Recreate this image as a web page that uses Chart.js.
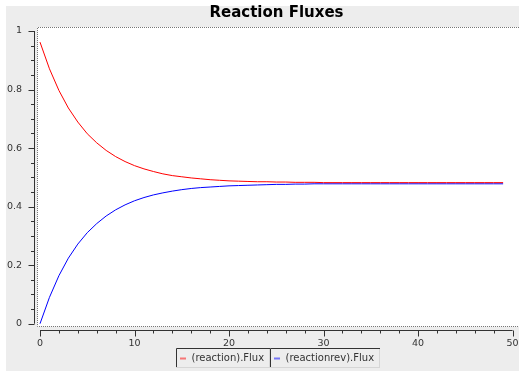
<!DOCTYPE html>
<html>
<head>
<meta charset="utf-8">
<title>Reaction Fluxes</title>
<script src="https://cdn.jsdelivr.net/npm/chart.js@4"></script>
<style>
  html, body { margin: 0; padding: 0; background: #fff; }
  #wrap { position: relative; width: 519px; height: 371px; }
</style>
</head>
<body>
<div id="wrap"><canvas id="chart"></canvas></div>
<script>
const time = [0, 1, 2, 3, 4, 5, 6, 7, 8, 9, 10, 11, 12, 13, 14, 15, 16, 17, 18, 19,
  20, 21, 22, 23, 24, 25, 26, 27, 28, 29, 30, 31, 32, 33, 34, 35, 36, 37, 38, 39,
  40, 41, 42, 43, 44, 45, 46, 47, 48, 49];
const reactionFlux = [0.962, 0.871, 0.797, 0.737, 0.689, 0.649, 0.618, 0.592, 0.571, 0.554,
  0.540, 0.529, 0.520, 0.512, 0.506, 0.502, 0.498, 0.495, 0.492, 0.490,
  0.488, 0.487, 0.486, 0.485, 0.485, 0.484, 0.484, 0.483, 0.483, 0.483,
  0.482, 0.482, 0.482, 0.482, 0.482, 0.482, 0.482, 0.482, 0.482, 0.482,
  0.482, 0.482, 0.482, 0.482, 0.482, 0.482, 0.482, 0.482, 0.482, 0.482];
const reactionRevFlux = [0.000, 0.090, 0.164, 0.224, 0.272, 0.311, 0.342, 0.368, 0.389, 0.406,
  0.420, 0.431, 0.440, 0.447, 0.453, 0.458, 0.462, 0.465, 0.467, 0.469,
  0.471, 0.472, 0.473, 0.474, 0.475, 0.476, 0.476, 0.477, 0.477, 0.478,
  0.478, 0.478, 0.478, 0.478, 0.478, 0.478, 0.478, 0.478, 0.478, 0.478,
  0.478, 0.478, 0.478, 0.478, 0.478, 0.478, 0.478, 0.478, 0.478, 0.478];
const seriesNames = ["(reaction).Flux", "(reactionrev).Flux"];
const seriesColors = ["#ff0000", "#0000ff"];
const xTicks = [0, 10, 20, 30, 40, 50];
const yTicks = [0, 0.2, 0.4, 0.6, 0.8, 1];

const tickFont = { family: "DejaVu Sans", size: 9.5 };

// grey panel, white plot box with dotted edge, axes with minor ticks, sunken legend
const panelPlugin = {
  id: "panel",
  beforeDraw(chart) {
    const { ctx, chartArea: a, width, height } = chart;
    ctx.save();
    ctx.fillStyle = "#fff";
    ctx.fillRect(0, 0, width, height);
    ctx.fillStyle = "#ededed";
    ctx.fillRect(6, 6, width - 6, height - 6);
    const left = a.left + 3.5, bottom = a.bottom - 3.5;
    ctx.fillStyle = "#fff";
    ctx.fillRect(left, a.top, a.right - left, bottom - a.top);
    ctx.strokeStyle = "#777";
    ctx.lineWidth = 1;
    ctx.setLineDash([1, 1]);
    ctx.beginPath();
    ctx.moveTo(a.right, a.top + 0.5);
    ctx.lineTo(left, a.top + 0.5);
    ctx.lineTo(left, bottom);
    ctx.lineTo(a.right, bottom);
    ctx.stroke();
    ctx.restore();
  },
  afterDraw(chart) {
    const { ctx, chartArea: a } = chart;
    const xs = chart.scales.x, ys = chart.scales.y;
    ctx.save();
    ctx.strokeStyle = "#333";
    ctx.lineWidth = 1;

    const ax = Math.round(a.left) + 0.5;
    ctx.beginPath();
    ctx.moveTo(ax, ys.getPixelForValue(1));
    ctx.lineTo(ax, ys.getPixelForValue(0));
    for (let i = 0; i <= 20; i++) {
      const py = Math.round(ys.getPixelForValue(i * 0.05)) + 0.5;
      const len = i % 4 === 0 ? 6 : 3.5;
      ctx.moveTo(ax - len, py);
      ctx.lineTo(ax, py);
    }
    const ay = Math.round(a.bottom) + 0.5;
    ctx.moveTo(xs.getPixelForValue(0), ay);
    ctx.lineTo(xs.getPixelForValue(50), ay);
    for (let i = 0; i <= 25; i++) {
      const px = Math.round(xs.getPixelForValue(i * 2)) + 0.5;
      const len = i % 5 === 0 ? 6 : 3;
      ctx.moveTo(px, ay);
      ctx.lineTo(px, ay + len);
    }
    ctx.stroke();

    // legend
    ctx.font = "10px 'DejaVu Sans'";
    const widths = seriesNames.map((n) => Math.round(16 + ctx.measureText(n).width + 5));
    const total = widths.reduce((s, w) => s + w, 0);
    let lx = Math.round((a.left + 3.5 + a.right) / 2 - total / 2);
    const top = 348, h = 19;
    seriesNames.forEach((name, i) => {
      const w = widths[i];
      ctx.strokeStyle = "#d6d6d6";
      ctx.beginPath();
      ctx.moveTo(lx, top + h + 0.5);
      ctx.lineTo(lx + w, top + h + 0.5);
      ctx.moveTo(lx + w - 0.5, top);
      ctx.lineTo(lx + w - 0.5, top + h);
      ctx.stroke();
      ctx.strokeStyle = "#333";
      ctx.beginPath();
      ctx.moveTo(lx + 0.5, top + h);
      ctx.lineTo(lx + 0.5, top + 0.5);
      ctx.lineTo(lx + w, top + 0.5);
      ctx.stroke();
      ctx.globalAlpha = 0.5;
      ctx.strokeStyle = seriesColors[i];
      ctx.lineWidth = 2;
      ctx.beginPath();
      ctx.moveTo(lx + 4, top + 10.5);
      ctx.lineTo(lx + 10, top + 10.5);
      ctx.stroke();
      ctx.globalAlpha = 1;
      ctx.lineWidth = 1;
      ctx.fillStyle = "#333";
      ctx.textBaseline = "middle";
      ctx.fillText(name, lx + 15.5, top + 10.5);
      lx += w;
    });
    ctx.restore();
  }
};

const datasets = [reactionFlux, reactionRevFlux].map((values, i) => ({
  label: seriesNames[i],
  data: time.map((t, j) => ({ x: t, y: values[j] })),
  borderColor: seriesColors[i],
  backgroundColor: seriesColors[i],
  borderWidth: 1,
  pointRadius: 0,
  tension: 0,
  fill: false
}));

new Chart(document.getElementById("chart"), {
  type: "line",
  data: { datasets },
  plugins: [panelPlugin],
  options: {
    responsive: true,
    maintainAspectRatio: false,
    animation: false,
    layout: { padding: { left: 0, right: 0, top: 0, bottom: 23 } },
    plugins: {
      legend: { display: false },
      tooltip: { enabled: false },
      title: {
        display: true,
        text: "Reaction Fluxes",
        fullSize: false,
        color: "#000",
        font: { family: "DejaVu Sans", size: 15, weight: "bold", lineHeight: 1.2 },
        padding: { top: 4, bottom: 5 }
      }
    },
    scales: {
      x: {
        type: "linear",
        min: -0.635,
        max: 50.68,
        grid: { display: false, drawTicks: false, tickLength: 0 },
        border: { display: false },
        ticks: { font: tickFont, color: "#333", padding: 8, maxRotation: 0, callback: (v) => String(v) },
        afterBuildTicks: (scale) => { scale.ticks = xTicks.map((v) => ({ value: v })); },
        afterFit: (scale) => { scale.height = 18; scale.paddingLeft = 0; scale.paddingRight = 0; }
      },
      y: {
        type: "linear",
        min: -0.0215,
        max: 1.0137,
        grid: { display: false, drawTicks: false, tickLength: 0 },
        border: { display: false },
        ticks: { font: tickFont, color: "#333", padding: 12, callback: (v) => String(v) },
        afterBuildTicks: (scale) => { scale.ticks = yTicks.map((v) => ({ value: v })); },
        afterFit: (scale) => { scale.width = 34; scale.paddingTop = 0; scale.paddingBottom = 0; }
      }
    }
  }
});
</script>
</body>
</html>
